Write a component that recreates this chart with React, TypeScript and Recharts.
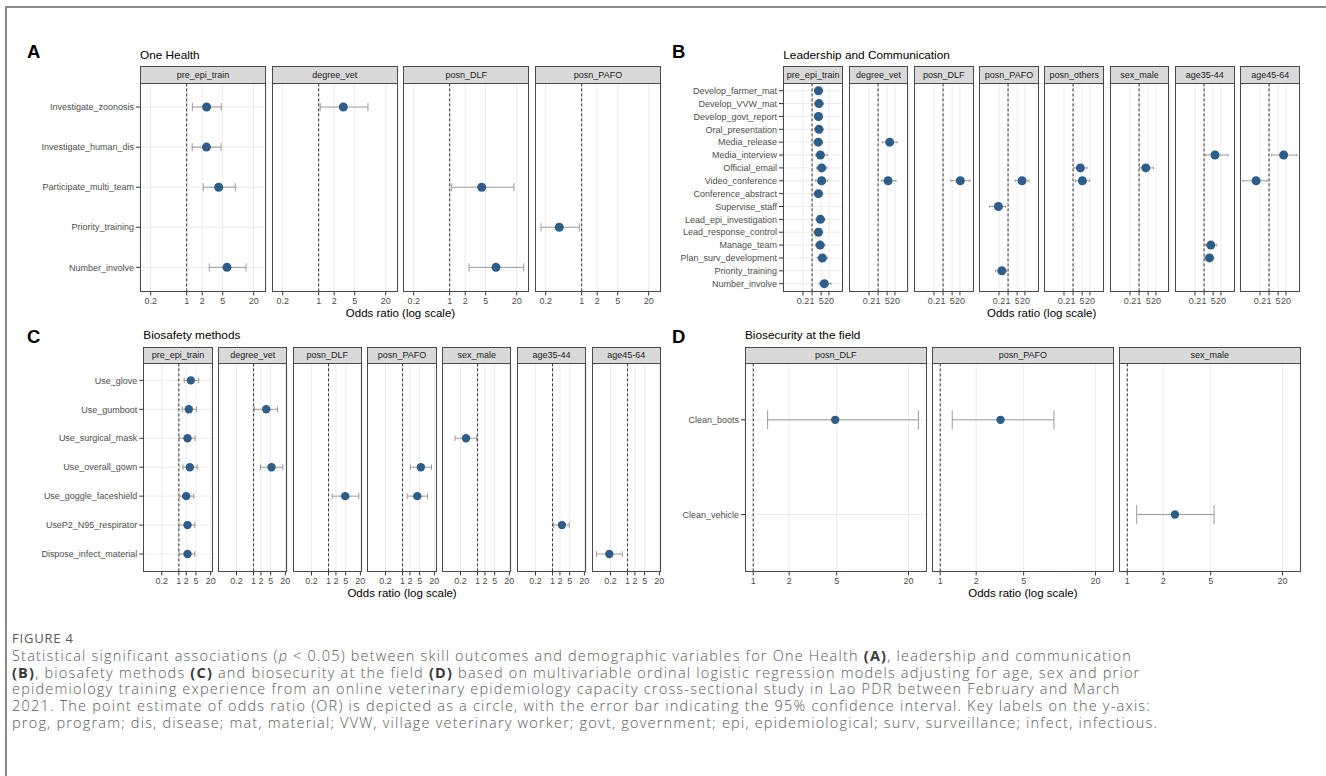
import React from 'react';
import { ScatterChart, Scatter, XAxis, YAxis, CartesianGrid, ReferenceLine, ErrorBar } from 'recharts';

const FONT = '"Liberation Sans", Arial, Helvetica, sans-serif';
const CAPFONT = '"Open Sans", "Noto Sans", sans-serif';
const DOT = '#2d5d88';

// ---------- Panel A: One Health ----------
const aItems = ['Investigate_zoonosis', 'Investigate_human_dis', 'Participate_multi_team', 'Priority_training', 'Number_involve'];
const aFacets = ['pre_epi_train', 'degree_vet', 'posn_DLF', 'posn_PAFO'];
const aTicks = [0.2, 1, 2, 5, 20];
const aPreEpiTrain = [
  { item: 'Investigate_zoonosis', or: 2.44, lo: 1.29, hi: 4.7 },
  { item: 'Investigate_human_dis', or: 2.42, lo: 1.28, hi: 4.65 },
  { item: 'Participate_multi_team', or: 4.18, lo: 2.1, hi: 8.8 },
  { item: 'Number_involve', or: 6.06, lo: 2.75, hi: 14.2 },
];
const aDegreeVet = [{ item: 'Investigate_zoonosis', or: 3.01, lo: 1.07, hi: 9.06 }];
const aPosnDLF = [
  { item: 'Participate_multi_team', or: 4.18, lo: 1.09, hi: 17.7 },
  { item: 'Number_involve', or: 7.93, lo: 2.37, hi: 27.3 },
];
const aPosnPAFO = [{ item: 'Priority_training', or: 0.367, lo: 0.162, hi: 0.9 }];

// ---------- Panel B: Leadership and Communication ----------
const bItems = ['Develop_farmer_mat', 'Develop_VVW_mat', 'Develop_govt_report', 'Oral_presentation', 'Media_release', 'Media_interview', 'Official_email', 'Video_conference', 'Conference_abstract', 'Supervise_staff', 'Lead_epi_investigation', 'Lead_response_control', 'Manage_team', 'Plan_surv_development', 'Priority_training', 'Number_involve'];
const bFacets = ['pre_epi_train', 'degree_vet', 'posn_DLF', 'posn_PAFO', 'posn_others', 'sex_male', 'age35-44', 'age45-64'];
const bTicks = [0.2, 1, 5, 20];
const bPreEpiTrain = [
  { item: 'Develop_farmer_mat', or: 3.1, lo: 1.5, hi: 6.6 },
  { item: 'Develop_VVW_mat', or: 3.4, lo: 1.6, hi: 7.2 },
  { item: 'Develop_govt_report', or: 3.1, lo: 1.5, hi: 6.4 },
  { item: 'Oral_presentation', or: 3.4, lo: 1.6, hi: 7.0 },
  { item: 'Media_release', or: 3.0, lo: 1.4, hi: 6.5 },
  { item: 'Media_interview', or: 4.4, lo: 1.9, hi: 15 },
  { item: 'Official_email', or: 5.5, lo: 2.2, hi: 14 },
  { item: 'Video_conference', or: 5.5, lo: 1.9, hi: 16 },
  { item: 'Conference_abstract', or: 3.1, lo: 1.4, hi: 6.6 },
  { item: 'Lead_epi_investigation', or: 4.4, lo: 2.0, hi: 9.5 },
  { item: 'Lead_response_control', or: 3.1, lo: 1.4, hi: 6.5 },
  { item: 'Manage_team', or: 4.2, lo: 1.8, hi: 10 },
  { item: 'Plan_surv_development', or: 6.2, lo: 2.5, hi: 15 },
  { item: 'Number_involve', or: 8.8, lo: 3.5, hi: 29 },
];
const bDegreeVet = [
  { item: 'Media_release', or: 7.8, lo: 2.1, hi: 29 },
  { item: 'Video_conference', or: 5.9, lo: 1.9, hi: 24 },
];
const bPosnDLF = [{ item: 'Video_conference', or: 21.4, lo: 3.9, hi: 119 }];
const bPosnPAFO = [
  { item: 'Video_conference', or: 11.9, lo: 3.45, hi: 41 },
  { item: 'Supervise_staff', or: 0.18, lo: 0.039, hi: 0.63 },
  { item: 'Priority_training', or: 0.33, lo: 0.107, hi: 0.83 },
];
const bPosnOthers = [
  { item: 'Official_email', or: 3.65, lo: 1.2, hi: 12 },
  { item: 'Video_conference', or: 5.2, lo: 1.5, hi: 19 },
];
const bSexMale = [{ item: 'Official_email', or: 3.3, lo: 1.06, hi: 12.6 }];
const bAge3544 = [
  { item: 'Media_interview', or: 7, lo: 1.35, hi: 70 },
  { item: 'Manage_team', or: 3.3, lo: 1.3, hi: 9.5 },
  { item: 'Plan_surv_development', or: 2.6, lo: 1.1, hi: 5.6 },
];
const bAge4564 = [
  { item: 'Media_interview', or: 13.3, lo: 1.58, hi: 141 },
  { item: 'Video_conference', or: 0.1, lo: 0.0093, hi: 0.7 },
];

// ---------- Panel C: Biosafety methods ----------
const cItems = ['Use_glove', 'Use_gumboot', 'Use_surgical_mask', 'Use_overall_gown', 'Use_goggle_faceshield', 'UseP2_N95_respirator', 'Dispose_infect_material'];
const cFacets = ['pre_epi_train', 'degree_vet', 'posn_DLF', 'posn_PAFO', 'sex_male', 'age35-44', 'age45-64'];
const cTicks = [0.2, 1, 2, 5, 20];
const cPreEpiTrain = [
  { item: 'Use_glove', or: 3.09, lo: 1.65, hi: 6.5 },
  { item: 'Use_gumboot', or: 2.56, lo: 1.37, hi: 5.3 },
  { item: 'Use_surgical_mask', or: 2.26, lo: 1.03, hi: 4.6 },
  { item: 'Use_overall_gown', or: 2.81, lo: 1.46, hi: 5.6 },
  { item: 'Use_goggle_faceshield', or: 1.99, lo: 1.03, hi: 4.1 },
  { item: 'UseP2_N95_respirator', or: 2.26, lo: 1.01, hi: 4.5 },
  { item: 'Dispose_infect_material', or: 2.26, lo: 1.01, hi: 4.5 },
];
const cDegreeVet = [
  { item: 'Use_gumboot', or: 3.29, lo: 1.06, hi: 9.5 },
  { item: 'Use_overall_gown', or: 5.43, lo: 1.93, hi: 15.7 },
];
const cPosnDLF = [{ item: 'Use_goggle_faceshield', or: 4.8, lo: 1.4, hi: 17.3 }];
const cPosnPAFO = [
  { item: 'Use_overall_gown', or: 5.6, lo: 2.1, hi: 15.2 },
  { item: 'Use_goggle_faceshield', or: 3.98, lo: 1.55, hi: 10.5 },
];
const cSexMale = [{ item: 'Use_surgical_mask', or: 0.336, lo: 0.12, hi: 0.91 }];
const cAge3544 = [{ item: 'UseP2_N95_respirator', or: 2.42, lo: 1.1, hi: 4.8 }];
const cAge4564 = [{ item: 'Dispose_infect_material', or: 0.179, lo: 0.053, hi: 0.61 }];

// ---------- Panel D: Biosecurity at the field ----------
const dItems = ['Clean_boots', 'Clean_vehicle'];
const dFacets = ['posn_DLF', 'posn_PAFO', 'sex_male'];
const dTicks = [1, 2, 5, 20];
const dPosnDLF = [{ item: 'Clean_boots', or: 4.86, lo: 1.32, hi: 24.2 }];
const dPosnPAFO = [{ item: 'Clean_boots', or: 3.2, lo: 1.26, hi: 8.97 }];
const dSexMale = [{ item: 'Clean_vehicle', or: 2.51, lo: 1.2, hi: 5.34 }];

const captionLines = [
  ['Statistical significant associations (', { i: 'p' }, ' < 0.05) between skill outcomes and demographic variables for One Health ', { b: '(A)' }, ', leadership and communication'],
  [{ b: '(B)' }, ', biosafety methods ', { b: '(C)' }, ' and biosecurity at the field ', { b: '(D)' }, ' based on multivariable ordinal logistic regression models adjusting for age, sex and prior'],
  ['epidemiology training experience from an online veterinary epidemiology capacity cross-sectional study in Lao PDR between February and March'],
  ['2021. The point estimate of odds ratio (OR) is depicted as a circle, with the error bar indicating the 95% confidence interval. Key labels on the y-axis:'],
  ['prog, program; dis, disease; mat, material; VVW, village veterinary worker; govt, government; epi, epidemiological; surv, surveillance; infect, infectious.'],
];

type Row = { item: string; or: number; lo: number; hi: number };

interface FacetProps {
  name: string;
  rows: Row[];
  items: string[];
  left: number;
  top: number;
  width: number;
  height: number;
  stripH: number;
  domain: [number, number];
  ticks: number[];
  yW: number;
  r: number;
  cap: number;
}

const PADR = 12;

function Facet({ name, rows, items, left, top, width, height, stripH, domain, ticks, yW, r, cap }: FacetProps) {
  const data = rows.map((d) => ({ ...d, row: items.indexOf(d.item), err: [d.or - d.lo, d.hi - d.or] }));
  const idx = items.map((_, i) => i);
  const showY = yW > 0;
  return (
    <>
      <div
        style={{
          position: 'absolute', left, top: top - stripH, width, height: stripH + 1,
          background: '#d9d9d9', border: '1px solid #4a4a4a', boxSizing: 'border-box',
          fontSize: 9, color: '#1a1a1a', fontFamily: FONT,
          display: 'flex', alignItems: 'center', justifyContent: 'center', whiteSpace: 'nowrap',
        }}
      >
        {name}
      </div>
      <div style={{ position: 'absolute', left: left - yW, top }}>
        <ScatterChart width={yW + width + PADR} height={height + 24} margin={{ top: 0, right: PADR, bottom: 0, left: 0 }}>
          <CartesianGrid stroke="#ebebeb" strokeWidth={1} />
          <XAxis
            type="number" dataKey="or" scale="log" domain={domain} allowDataOverflow ticks={ticks}
            interval={0} tickFormatter={(v: number) => String(v)} height={24}
            axisLine={false} tickLine={{ stroke: '#333' }} tickSize={4} tickMargin={2}
            tick={{ fontSize: 9, fill: '#4d4d4d', fontFamily: FONT }}
          />
          <YAxis
            type="number" dataKey="row" domain={[-0.6, items.length - 0.4]} reversed allowDataOverflow
            ticks={idx} interval={0} width={yW} axisLine={false}
            tickLine={showY ? { stroke: '#333' } : false} tickSize={4} tickMargin={2}
            tick={showY ? { fontSize: 9, fill: '#4d4d4d', fontFamily: FONT } : false}
            tickFormatter={(i: number) => items[i] ?? ''}
          />
          <ReferenceLine x={1} stroke="#333" strokeDasharray="3 2" strokeWidth={1} />
          <Scatter
            data={data}
            isAnimationActive={false}
            shape={(p: any) => <circle cx={p.cx} cy={p.cy} r={r} fill={DOT} />}
          >
            <ErrorBar dataKey="err" direction="x" width={cap} stroke="#9a9a9a" strokeWidth={1} />
          </Scatter>
        </ScatterChart>
      </div>
      <div
        style={{
          position: 'absolute', left, top, width, height,
          border: '1px solid #4a4a4a', boxSizing: 'border-box', pointerEvents: 'none',
        }}
      />
    </>
  );
}

interface PanelProps {
  letter: string;
  letterX: number;
  letterY: number;
  title: string;
  titleY: number;
  facets: string[];
  facetRows: Row[][];
  items: string[];
  x0: number;
  step: number;
  width: number;
  top: number;
  height: number;
  stripH: number;
  domain: [number, number];
  ticks: number[];
  yW: number;
  r: number;
  cap: number;
}

function Panel(p: PanelProps) {
  const right = p.x0 + p.step * (p.facets.length - 1) + p.width;
  return (
    <>
      <div style={{ position: 'absolute', left: p.letterX, top: p.letterY - 11, lineHeight: '22px', fontSize: 18.5, fontWeight: 'bold', fontFamily: FONT, color: '#000' }}>
        {p.letter}
      </div>
      <div style={{ position: 'absolute', left: p.x0, top: p.titleY - 8, lineHeight: '16px', fontSize: 11.8, fontFamily: FONT, color: '#000', whiteSpace: 'nowrap' }}>
        {p.title}
      </div>
      {p.facets.map((f, k) => (
        <Facet
          key={f}
          name={f}
          rows={p.facetRows[k]}
          items={p.items}
          left={p.x0 + k * p.step}
          top={p.top}
          width={p.width}
          height={p.height}
          stripH={p.stripH}
          domain={p.domain}
          ticks={p.ticks}
          yW={k === 0 ? p.yW : 0}
          r={p.r}
          cap={p.cap}
        />
      ))}
      <div
        style={{
          position: 'absolute', left: p.x0, width: right - p.x0, top: p.top + p.height + 14,
          lineHeight: '14px', textAlign: 'center', fontSize: 11.5, fontFamily: FONT, color: '#000',
        }}
      >
        Odds ratio (log scale)
      </div>
    </>
  );
}

export default function App() {
  return (
    <div style={{ position: 'absolute', left: 0, top: 0, width: 1326, height: 776, background: '#fff', overflow: 'hidden' }}>
      <div style={{ position: 'absolute', left: 5, top: 6, width: 1330, height: 800, borderTop: '2px solid #8a8a8a', borderLeft: '2px solid #8a8a8a' }} />
      <Panel
        letter="A" letterX={27} letterY={52} title="One Health" titleY={55}
        facets={aFacets} facetRows={[aPreEpiTrain, aDegreeVet, aPosnDLF, aPosnPAFO]} items={aItems}
        x0={140} step={131.67} width={126} top={83.3} height={208.4} stripH={17.3}
        domain={[0.124, 34.7]} ticks={aTicks} yW={140} r={4.5} cap={4}
      />
      <Panel
        letter="B" letterX={672} letterY={52} title="Leadership and Communication" titleY={55}
        facets={bFacets} facetRows={[bPreEpiTrain, bDegreeVet, bPosnDLF, bPosnPAFO, bPosnOthers, bSexMale, bAge3544, bAge4564]} items={bItems}
        x0={783.3} step={65.29} width={59.7} top={83.3} height={208.4} stripH={17.3}
        domain={[0.00575, 229]} ticks={bTicks} yW={120} r={4.5} cap={1.3}
      />
      <Panel
        letter="C" letterX={27} letterY={337} title="Biosafety methods" titleY={335}
        facets={cFacets} facetRows={[cPreEpiTrain, cDegreeVet, cPosnDLF, cPosnPAFO, cSexMale, cAge3544, cAge4564]} items={cItems}
        x0={143.3} step={74.7} width={69.3} top={363.3} height={208.4} stripH={16.6}
        domain={[0.035, 24]} ticks={cTicks} yW={143.3} r={4.2} cap={2.9}
      />
      <Panel
        letter="D" letterX={672} letterY={337} title="Biosecurity at the field" titleY={335}
        facets={dFacets} facetRows={[dPosnDLF, dPosnPAFO, dSexMale]} items={dItems}
        x0={745} step={187} width={181.7} top={363.3} height={208.4} stripH={16.6}
        domain={[0.853, 28.4]} ticks={dTicks} yW={120} r={4.2} cap={9.5}
      />
      <div style={{ position: 'absolute', left: 12, top: 631, fontSize: 13, letterSpacing: 0.8, lineHeight: '14px', fontFamily: CAPFONT, color: '#58595b' }}>
        FIGURE 4
      </div>
      <div style={{ position: 'absolute', left: 12, top: 648, fontSize: 14.5, letterSpacing: 1.2, fontWeight: 300, lineHeight: '16.7px', fontFamily: CAPFONT, color: '#58595b', whiteSpace: 'nowrap' }}>
        {captionLines.map((line, li) => (
          <div key={li}>
            {line.map((seg: any, si) =>
              typeof seg === 'string' ? (
                <span key={si}>{seg}</span>
              ) : seg.i ? (
                <i key={si}>{seg.i}</i>
              ) : (
                <b key={si} style={{ color: '#3a3a3a', fontWeight: 700 }}>{seg.b}</b>
              )
            )}
          </div>
        ))}
      </div>
    </div>
  );
}
